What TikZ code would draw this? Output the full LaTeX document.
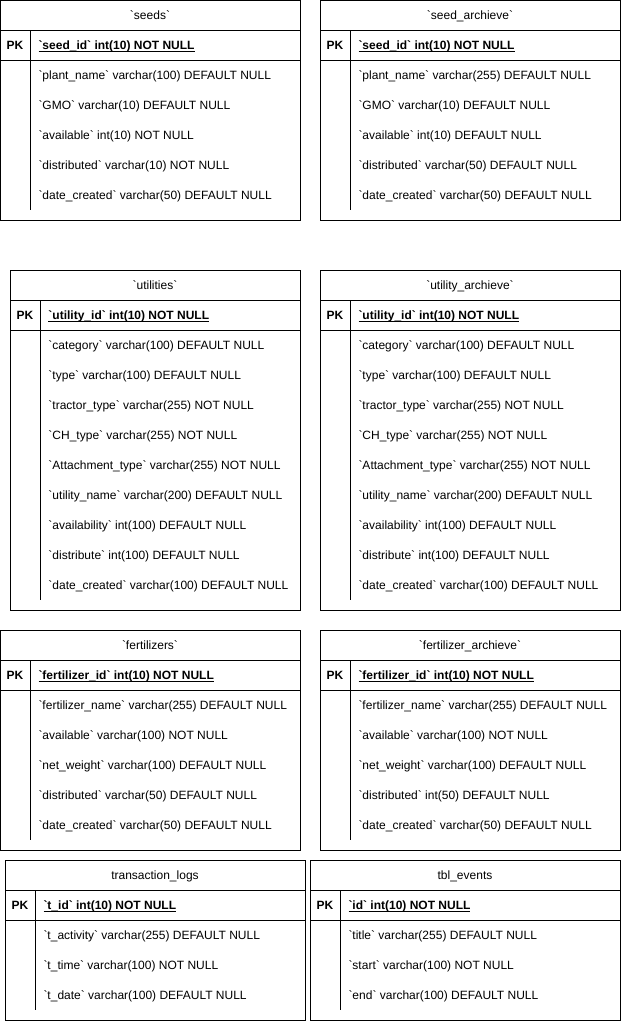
\documentclass[tikz,border=0pt]{standalone}
\usepackage{fontspec}
\newfontfamily\erfont{Liberation Sans}
\usepackage{tikz}
\usetikzlibrary{positioning, calc}
\newcommand{\tblfont}{\erfont\fontsize{12pt}{14pt}\selectfont}
\newcommand{\ulkey}[1]{\setbox0\hbox{#1}\rlap{\rule[-1.8pt]{\wd0}{0.8pt}}\box0}

\begin{document}
\begin{tikzpicture}[x=1pt, y=-1pt, line width=1pt, font=\tblfont]
    % Define styles
    \tikzstyle{tblframe} = [rectangle, draw, anchor=north west, inner sep=0pt, outer sep=0pt]
    \tikzstyle{tblhead} = [rectangle, draw, anchor=north west, minimum height=30pt, inner sep=0pt, outer sep=0pt, text height=9pt, text depth=0pt]
    \tikzstyle{pkcell} = [rectangle, anchor=north west, minimum width=30pt, minimum height=30pt, inner sep=0pt, outer sep=0pt, font=\tblfont\bfseries]
    \tikzstyle{pkfield} = [anchor=base west, inner sep=0pt, font=\tblfont\bfseries]
    \tikzstyle{fieldrow} = [anchor=base west, inner sep=0pt]

    \useasboundingbox (0,0) rectangle (621,1021);

    % seeds
    \node [tblframe, minimum width=300pt, minimum height=220pt] (seeds) at (0,0) {};
    \node [tblhead, minimum width=300pt] (seedsHead) at (seeds.north west) {`seeds`};
    \node [pkcell] (seedsPK) at (seedsHead.south west) {PK};
    \node [pkfield] (seedsKey) at ($(seedsPK.east)+(8,4.5)$) {\ulkey{`seed\_id` int(10) NOT NULL}};
    \draw (seedsPK.south west) -- (seedsPK.south -| seeds.east);
    \draw (seedsPK.north east) -- ($(seedsPK.east |- seeds.south)+(0,-10)$);
    \foreach \f [count=\i] in {`plant\_name` varchar(100) DEFAULT NULL, `GMO` varchar(10) DEFAULT NULL, `available` int(10) NOT NULL, `distributed` varchar(10) NOT NULL, `date\_created` varchar(50) DEFAULT NULL}
        \node [fieldrow] (seedsF\i) at ($(seedsPK.east)+(8,30*\i+4.5)$) {\f};

    % seed_archieve
    \node [tblframe, minimum width=300pt, minimum height=220pt] (seedArch) at (320,0) {};
    \node [tblhead, minimum width=300pt] (seedArchHead) at (seedArch.north west) {`seed\_archieve`};
    \node [pkcell] (seedArchPK) at (seedArchHead.south west) {PK};
    \node [pkfield] (seedArchKey) at ($(seedArchPK.east)+(8,4.5)$) {\ulkey{`seed\_id` int(10) NOT NULL}};
    \draw (seedArchPK.south west) -- (seedArchPK.south -| seedArch.east);
    \draw (seedArchPK.north east) -- ($(seedArchPK.east |- seedArch.south)+(0,-10)$);
    \foreach \f [count=\i] in {`plant\_name` varchar(255) DEFAULT NULL, `GMO` varchar(10) DEFAULT NULL, `available` int(10) DEFAULT NULL, `distributed` varchar(50) DEFAULT NULL, `date\_created` varchar(50) DEFAULT NULL}
        \node [fieldrow] (seedArchF\i) at ($(seedArchPK.east)+(8,30*\i+4.5)$) {\f};

    % utilities
    \node [tblframe, minimum width=290pt, minimum height=340pt] (util) at (10,270) {};
    \node [tblhead, minimum width=290pt] (utilHead) at (util.north west) {`utilities`};
    \node [pkcell] (utilPK) at (utilHead.south west) {PK};
    \node [pkfield] (utilKey) at ($(utilPK.east)+(8,4.5)$) {\ulkey{`utility\_id` int(10) NOT NULL}};
    \draw (utilPK.south west) -- (utilPK.south -| util.east);
    \draw (utilPK.north east) -- ($(utilPK.east |- util.south)+(0,-10)$);
    \foreach \f [count=\i] in {`category` varchar(100) DEFAULT NULL, `type` varchar(100) DEFAULT NULL, `tractor\_type` varchar(255) NOT NULL, `CH\_type` varchar(255) NOT NULL, `Attachment\_type` varchar(255) NOT NULL, `utility\_name` varchar(200) DEFAULT NULL, `availability` int(100) DEFAULT NULL, `distribute` int(100) DEFAULT NULL, `date\_created` varchar(100) DEFAULT NULL}
        \node [fieldrow] (utilF\i) at ($(utilPK.east)+(8,30*\i+4.5)$) {\f};

    % utility_archieve
    \node [tblframe, minimum width=300pt, minimum height=340pt] (utilArch) at (320,270) {};
    \node [tblhead, minimum width=300pt] (utilArchHead) at (utilArch.north west) {`utility\_archieve`};
    \node [pkcell] (utilArchPK) at (utilArchHead.south west) {PK};
    \node [pkfield] (utilArchKey) at ($(utilArchPK.east)+(8,4.5)$) {\ulkey{`utility\_id` int(10) NOT NULL}};
    \draw (utilArchPK.south west) -- (utilArchPK.south -| utilArch.east);
    \draw (utilArchPK.north east) -- ($(utilArchPK.east |- utilArch.south)+(0,-10)$);
    \foreach \f [count=\i] in {`category` varchar(100) DEFAULT NULL, `type` varchar(100) DEFAULT NULL, `tractor\_type` varchar(255) NOT NULL, `CH\_type` varchar(255) NOT NULL, `Attachment\_type` varchar(255) NOT NULL, `utility\_name` varchar(200) DEFAULT NULL, `availability` int(100) DEFAULT NULL, `distribute` int(100) DEFAULT NULL, `date\_created` varchar(100) DEFAULT NULL}
        \node [fieldrow] (utilArchF\i) at ($(utilArchPK.east)+(8,30*\i+4.5)$) {\f};

    % fertilizers
    \node [tblframe, minimum width=300pt, minimum height=220pt] (fert) at (0,630) {};
    \node [tblhead, minimum width=300pt] (fertHead) at (fert.north west) {`fertilizers`};
    \node [pkcell] (fertPK) at (fertHead.south west) {PK};
    \node [pkfield] (fertKey) at ($(fertPK.east)+(8,4.5)$) {\ulkey{`fertilizer\_id` int(10) NOT NULL}};
    \draw (fertPK.south west) -- (fertPK.south -| fert.east);
    \draw (fertPK.north east) -- ($(fertPK.east |- fert.south)+(0,-10)$);
    \foreach \f [count=\i] in {`fertilizer\_name` varchar(255) DEFAULT NULL, `available` varchar(100) NOT NULL, `net\_weight` varchar(100) DEFAULT NULL, `distributed` varchar(50) DEFAULT NULL, `date\_created` varchar(50) DEFAULT NULL}
        \node [fieldrow] (fertF\i) at ($(fertPK.east)+(8,30*\i+4.5)$) {\f};

    % fertilizer_archieve
    \node [tblframe, minimum width=300pt, minimum height=220pt] (fertArch) at (320,630) {};
    \node [tblhead, minimum width=300pt] (fertArchHead) at (fertArch.north west) {`fertilizer\_archieve`};
    \node [pkcell] (fertArchPK) at (fertArchHead.south west) {PK};
    \node [pkfield] (fertArchKey) at ($(fertArchPK.east)+(8,4.5)$) {\ulkey{`fertilizer\_id` int(10) NOT NULL}};
    \draw (fertArchPK.south west) -- (fertArchPK.south -| fertArch.east);
    \draw (fertArchPK.north east) -- ($(fertArchPK.east |- fertArch.south)+(0,-10)$);
    \foreach \f [count=\i] in {`fertilizer\_name` varchar(255) DEFAULT NULL, `available` varchar(100) NOT NULL, `net\_weight` varchar(100) DEFAULT NULL, `distributed` int(50) DEFAULT NULL, `date\_created` varchar(50) DEFAULT NULL}
        \node [fieldrow] (fertArchF\i) at ($(fertArchPK.east)+(8,30*\i+4.5)$) {\f};

    % transaction_logs
    \node [tblframe, minimum width=300pt, minimum height=160pt] (logs) at (5,860) {};
    \node [tblhead, minimum width=300pt] (logsHead) at (logs.north west) {transaction\_logs};
    \node [pkcell] (logsPK) at (logsHead.south west) {PK};
    \node [pkfield] (logsKey) at ($(logsPK.east)+(8,4.5)$) {\ulkey{`t\_id` int(10) NOT NULL}};
    \draw (logsPK.south west) -- (logsPK.south -| logs.east);
    \draw (logsPK.north east) -- ($(logsPK.east |- logs.south)+(0,-10)$);
    \foreach \f [count=\i] in {`t\_activity` varchar(255) DEFAULT NULL, `t\_time` varchar(100) NOT NULL, `t\_date` varchar(100) DEFAULT NULL}
        \node [fieldrow] (logsF\i) at ($(logsPK.east)+(8,30*\i+4.5)$) {\f};

    % tbl_events
    \node [tblframe, minimum width=310pt, minimum height=160pt] (events) at (310,860) {};
    \node [tblhead, minimum width=310pt] (eventsHead) at (events.north west) {tbl\_events};
    \node [pkcell] (eventsPK) at (eventsHead.south west) {PK};
    \node [pkfield] (eventsKey) at ($(eventsPK.east)+(8,4.5)$) {\ulkey{`id` int(10) NOT NULL}};
    \draw (eventsPK.south west) -- (eventsPK.south -| events.east);
    \draw (eventsPK.north east) -- ($(eventsPK.east |- events.south)+(0,-10)$);
    \foreach \f [count=\i] in {`title` varchar(255) DEFAULT NULL, `start` varchar(100) NOT NULL, `end` varchar(100) DEFAULT NULL}
        \node [fieldrow] (eventsF\i) at ($(eventsPK.east)+(8,30*\i+4.5)$) {\f};
\end{tikzpicture}
\end{document}
